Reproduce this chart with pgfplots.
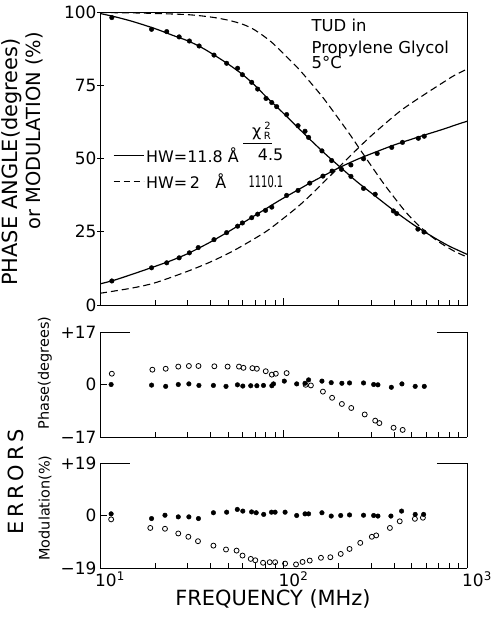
\documentclass[border=0pt]{standalone}
\usepackage{pgfplots}
\usepackage{pgfplotstable}
\pgfplotsset{compat=1.18}
\usepackage{fontspec}
\setmainfont{DejaVu Sans}

\pgfplotstableread{
F M
11.6 98.1
19.1 94.1
23.1 93.3
27.0 91.5
30.7 90.1
34.7 88.4
41.8 85.3
49.0 82.5
56.2 80.8
59.7 78.6
67.1 76.0
72.3 73.7
80.3 70.5
86.3 69.1
91.8 67.7
104 65.0
120 61.2
131 59.3
137 57.2
162 52.6
183 49.3
233 43.9
273 39.8
316 37.8
397 32.1
414 31.2
540 25.9
583 24.9
}\moddata

\pgfplotstableread{
F P
11.6 8.2
19.1 12.7
23.1 14.4
27.0 16.1
30.7 17.8
34.3 19.6
41.8 22.3
49.0 24.7
56.2 26.9
59.7 28.0
67.1 29.8
72.3 31.0
79.8 32.3
86.3 33.4
104 37.4
120 39.1
139 41.6
164 44.0
184 45.7
207 46.3
233 47.8
273 49.9
324 51.7
389 53.8
445 55.5
543 56.9
585 57.6
}\phadata

\pgfplotstableread{
F M
10 99.5
12 98.4
15 96.8
20 94.3
25 92.0
30 90.2
35 88.2
40 86.1
50 82.2
60 78.6
70 74.9
80 71.2
90 68.2
100 65.4
120 60.5
140 56.4
170 51.4
200 47.5
250 42.2
300 38.3
400 32.2
500 27.8
600 24.6
700 22.1
800 20.1
900 18.6
1000 17.3
}\modsolid

\pgfplotstableread{
F P
10 7.2
12 8.5
15 10.5
20 13.2
25 15.4
30 17.5
35 19.6
40 21.5
50 25.0
60 28.0
70 30.6
80 32.8
90 34.8
100 36.5
120 39.3
140 41.7
170 44.5
200 46.8
250 49.6
300 51.6
400 54.6
500 56.6
600 58.2
700 59.5
800 60.7
900 61.8
1000 62.7
}\phasolid

\pgfplotstableread{
F M
10 99.8
15 99.7
20 99.5
30 99.1
40 98.3
50 97.2
60 95.8
70 93.8
85 90.0
100 85.8
120 80.8
140 76.0
165 70.6
200 63.5
230 58.2
260 53.3
300 47.6
350 41.6
400 36.8
460 32.0
520 28.4
600 24.8
700 21.6
850 18.4
1000 16.4
}\moddash

\pgfplotstableread{
F P
10 4.0
15 5.8
20 7.6
30 11.5
40 14.7
50 17.6
60 20.3
80 25.0
100 29.6
120 33.6
140 37.4
165 41.8
200 47.0
250 53.0
300 57.7
380 63.3
450 67.0
578 71.6
743 76.0
850 78.3
1000 80.5
}\phadash

\pgfplotstableread{
F E
11.5 0
19.1 -0.2
22.8 -0.6
26.7 0
30.5 0.2
34.6 -0.3
41.5 -0.3
48.6 -0.6
56.1 -0.1
60.0 -0.5
66.3 -0.4
71.6 -0.4
77.8 -0.3
86.4 -0.4
88.2 0.2
101 1.1
118 0.2
131 0.4
137 1.5
162 1.1
182 0.6
208 0.4
229 0.5
273 0.5
310 0
327 -0.1
387 -0.9
442 0.2
522 -0.6
585 -0.6
}\phaerrA

\pgfplotstableread{
F E
11.6 3.5
19.3 4.8
22.8 5.1
26.7 5.8
30.5 6.0
34.4 6.0
42.0 5.9
49.6 5.8
57.2 5.8
60.5 5.4
67.7 5.3
71.6 5.1
80.0 4.3
86.4 3.2
90.8 3.5
104 3.7
132 -0.1
141 -0.3
164 -2.3
184 -4.3
208 -6.3
234 -7.6
277 -9.7
316 -11.7
333 -12.5
398 -14.0
446 -14.7
}\phaerrB

\pgfplotstableread{
F E
11.5 0.6
19.1 -1.1
22.6 0.1
26.7 -0.5
30.5 -0.5
34.4 -1.1
41.5 1.0
49.0 1.2
56.0 2.2
60.0 1.6
67.0 1.3
71.0 1.0
78.0 0.4
86.0 1.2
90.0 1.2
102 1.2
118 0
131 0.6
137 0.6
162 1.0
182 -0.2
205 0
229 0.2
273 0.1
310 0
327 -0.2
385 -0.2
440 1.6
522 0.4
580 0.4
}\moderrA

\pgfplotstableread{
F E
11.5 -1.4
18.8 -4.5
22.6 -4.8
26.7 -6.5
30.3 -7.7
34.2 -9.3
41.5 -10.9
48.6 -12.3
55.5 -12.7
59.8 -14.5
66.3 -15.7
70.2 -16.2
77.4 -17.1
84.1 -16.9
90.0 -16.9
102 -17.4
117 -17.7
127 -16.8
139 -16.3
160 -15.3
180 -15.1
205 -13.9
229 -12.1
262 -9.9
303 -7.7
320 -7.2
380 -4.5
430 -2.1
520 -1.2
575 -0.8
}\moderrB

\pgfplotsset{
  fdot/.style={only marks, mark=*, mark size=2.3bp, mark options={fill=black, draw=black}},
  odot/.style={only marks, mark=o, mark size=2.5bp, mark options={line width=0.8bp, draw=black, fill=white}},
  solidc/.style={no marks, smooth, black, line width=1.2bp},
  dashc/.style={no marks, smooth, black, line width=1.1bp, dash pattern=on 7bp off 4bp},
}

\begin{document}
\begin{tikzpicture}[font=\fontsize{14}{16}\selectfont]
\useasboundingbox (0,0) rectangle (493bp,-630bp);

% top panel
\begin{axis}[
  xmode=log, scale only axis, width=367bp, height=293bp,
  at={(100bp,-305bp)}, anchor=south west,
  xmin=10, xmax=1000, ymin=0, ymax=100,
  tick align=inside, major tick length=7bp, minor tick length=5bp,
  axis line style={line width=1bp},
  every tick/.style={line width=0.8bp, black},
  ticklabel style={font=\fontsize{17}{17}\selectfont},
  xtick={10,100,1000}, xticklabels={},
  minor xtick={20,30,40,50,60,70,80,90,200,300,400,500,600,700,800,900},
  ytick pos=left, xtick pos=bottom,
  ytick={0,25,50,75,100}, yticklabels={0,25,50,75,100},
  y tick style={xshift=-3bp},
  legend columns=2,
  legend style={draw=none, fill=none, at={(rel axis cs:0.035,0.545)}, anchor=north west,
    inner sep=0pt, row sep=6bp, font=\fontsize{16}{18}\selectfont},
  legend cell align=left,
]
\addplot[solidc, forget plot] table[x=F, y=M] {\modsolid};
\addplot[solidc, forget plot] table[x=F, y=P] {\phasolid};
\addplot[dashc, forget plot] table[x=F, y=M] {\moddash};
\addplot[dashc, forget plot] table[x=F, y=P] {\phadash};
\addplot[fdot, forget plot] table[x=F, y=M] {\moddata};
\addplot[fdot, forget plot] table[x=F, y=P] {\phadata};
\addlegendimage{no marks, black, line width=1.2bp, legend image code/.code={\draw[black, line width=1.2bp] (0bp,0bp) -- (30bp,0bp);}}
\addlegendentry{\makebox[75bp][l]{HW=11.8 Å}}
\addlegendimage{empty legend}
\addlegendentry{\makebox[58bp][r]{4.5}}
\addlegendimage{no marks, black, legend image code/.code={\draw[black, line width=1.1bp, dash pattern=on 6bp off 4bp] (0bp,0bp) -- (30bp,0bp);}}
\addlegendentry{\makebox[75bp][l]{HW=\,2\ \ \ Å}}
\addlegendimage{empty legend}
\addlegendentry{\makebox[58bp][r]{\scalebox{0.62}[1]{1110.1}}}
\node[anchor=base west, font=\fontsize{16.5}{18}\selectfont] at (rel axis cs:0.567,0.935) {TUD in};
\node[anchor=base west, font=\fontsize{16.5}{18}\selectfont] at (rel axis cs:0.567,0.857) {Propylene Glycol};
\node[anchor=base west, font=\fontsize{16.5}{18}\selectfont] at (rel axis cs:0.567,0.806) {5°C};
\node[font=\fontsize{16}{18}\selectfont] at (rel axis cs:0.440,0.595) {χ\,\raisebox{-3bp}{\fontsize{10}{9}\selectfont\shortstack{2\\R}}};
\draw[line width=0.8bp] (rel axis cs:0.390,0.553) -- (rel axis cs:0.469,0.553);
\end{axis}

% phase errors
\begin{axis}[
  xmode=log, scale only axis, width=367bp, height=105bp,
  at={(100bp,-437bp)}, anchor=south west,
  xmin=10, xmax=1000, ymin=-17, ymax=17, clip=false,
  axis x line=bottom, axis y line=left,
  axis line style={line width=1bp, -},
  tick align=inside, major tick length=7bp, minor tick length=5bp,
  every tick/.style={line width=0.8bp, black},
  ticklabel style={font=\fontsize{17}{17}\selectfont},
  xtick={10,100,1000}, xticklabels={},
  minor xtick={20,30,40,50,60,70,80,90,200,300,400,500,600,700,800,900},
  ytick pos=left, xtick pos=bottom,
  ytick={-17,0,17}, yticklabels={−17,0,+17}]
\addplot[odot] table[x=F, y=E] {\phaerrB};
\addplot[fdot] table[x=F, y=E] {\phaerrA};
\draw[line width=1bp] (rel axis cs:0,1) -- (rel axis cs:0.082,1);
\draw[line width=1bp] (rel axis cs:0.918,1) -- (rel axis cs:1,1) -- (rel axis cs:1,0);
\end{axis}

% modulation errors
\begin{axis}[
  xmode=log, scale only axis, width=367bp, height=105bp,
  at={(100bp,-568bp)}, anchor=south west,
  xmin=10, xmax=1000, ymin=-19, ymax=19, clip=false,
  axis x line=bottom, axis y line=left,
  axis line style={line width=1bp, -},
  tick align=inside, major tick length=7bp, minor tick length=5bp,
  every tick/.style={line width=0.8bp, black},
  ticklabel style={font=\fontsize{17}{17}\selectfont},
  xtick={10,100,1000},
  xticklabels={10\textsuperscript{1},10\textsuperscript{2},10\textsuperscript{3}},
  xticklabel style={xshift=10bp},
  minor xtick={20,30,40,50,60,70,80,90,200,300,400,500,600,700,800,900},
  ytick pos=left, xtick pos=bottom,
  ytick={-19,0,19}, yticklabels={−19,0,+19}]
\addplot[odot] table[x=F, y=E] {\moderrB};
\addplot[fdot] table[x=F, y=E] {\moderrA};
\draw[line width=1bp] (rel axis cs:0,1) -- (rel axis cs:0.082,1);
\draw[line width=1bp] (rel axis cs:0.918,1) -- (rel axis cs:1,1) -- (rel axis cs:1,0);
\end{axis}

% outer labels
\node[rotate=90, font=\fontsize{21}{21}\selectfont] at (12bp,-162bp) {PHASE ANGLE(degrees)};
\node[rotate=90, font=\fontsize{19.5}{21}\selectfont] at (34bp,-131bp) {or MODULATION (\%)};
\node[rotate=90, font=\fontsize{21}{21}\selectfont\addfontfeature{LetterSpace=18}] at (16bp,-482bp) {ERRORS};
\node[rotate=90, font=\fontsize{14.5}{15}\selectfont] at (45bp,-373bp) {Phase(degrees)};
\node[rotate=90, font=\fontsize{14.5}{15}\selectfont] at (45bp,-508bp) {Modulation(\%)};
\node[font=\fontsize{21}{21}\selectfont] at (273bp,-599bp) {FREQUENCY (MHz)};
\end{tikzpicture}
\end{document}
